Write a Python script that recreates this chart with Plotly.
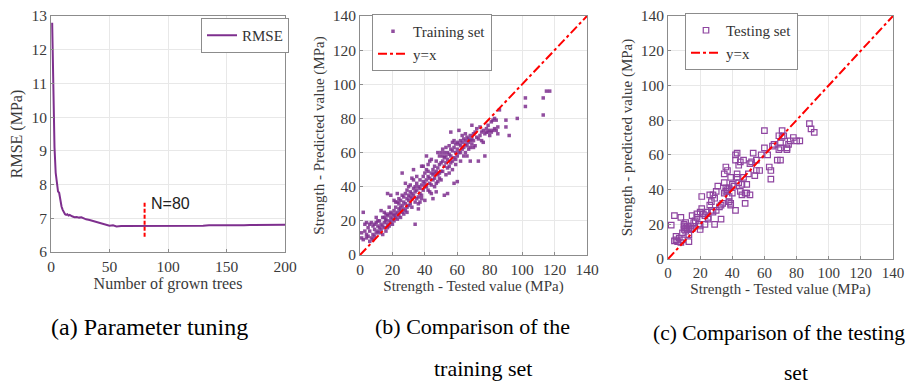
import plotly.graph_objects as go

# ---------------- data ----------------
trees = [1, 2, 3, 4, 5, 6, 7, 8, 9, 10, 11, 12, 13, 14, 15, 16, 18, 20, 22, 24, 26, 28, 30,
         33, 36, 40, 44, 48, 50, 53, 56, 60, 65, 70, 75, 80, 85, 90, 95, 100, 105, 110,
         115, 120, 125, 130, 135, 140, 145, 150, 155, 160, 165, 170, 175, 180, 185, 190, 195, 200]
rmse = [12.8, 10.6, 9.1, 8.35, 8.05, 7.8, 7.75, 7.5, 7.35, 7.25, 7.18, 7.12, 7.1, 7.12, 7.08, 7.1,
        7.06, 7.03, 7.04, 7.02, 7.03, 7.0, 6.97, 6.95, 6.92, 6.88, 6.84, 6.8, 6.78, 6.79, 6.76, 6.77,
        6.77, 6.78, 6.77, 6.77, 6.78, 6.77, 6.77, 6.77, 6.78, 6.77, 6.76, 6.77, 6.78, 6.78, 6.79,
        6.79, 6.78, 6.78, 6.77, 6.78, 6.79, 6.8, 6.8, 6.8, 6.81, 6.81, 6.8, 6.81]

train_tested = [1,1,2,2,3,3,4,4,5,5,6,6,7,7,8,8,9,9,10,10,10,4,6,8,9,
    11,11,12,12,12,13,13,14,14,14,15,15,15,16,16,16,17,17,17,18,18,18,19,19,19,20,20,20,13,11,15,18,17,19,16,
    21,21,21,22,22,22,23,23,23,24,24,24,25,25,25,26,26,26,27,27,27,28,28,28,29,29,29,30,30,30,21,23,25,27,29,28,26,24,22,30,
    31,31,31,32,32,32,33,33,33,34,34,34,35,35,35,36,36,36,37,37,37,38,38,38,39,39,39,40,40,40,31,33,35,36,38,40,34,32,37,39,
    41,41,41,42,42,42,43,43,43,44,44,44,45,45,45,46,46,46,47,47,47,48,48,48,49,49,49,50,50,50,41,43,45,47,49,42,44,46,48,50,
    51,51,51,52,52,52,53,53,53,54,54,54,55,55,55,56,56,56,57,57,57,58,58,58,59,59,59,60,60,60,51,53,55,57,59,52,54,56,58,60,
    61,61,61,62,62,62,63,63,64,64,64,65,65,65,66,66,67,67,67,68,68,68,69,69,70,70,70,71,63,66,69,71,62,65,68,
    72,72,73,73,74,74,75,75,76,76,77,77,78,78,79,79,80,80,81,81,82,82,83,83,84,84,85,86,85,
    90,90,92,97,102,102,113,113,115,117]
train_pred = [13,10,9,25,14,18,12,10,16,11,8,14,19,10,12,17,15,11,13,19,22,19,18,9,18,
    14,17,16,20,13,18,15,22,17,12,19,25,16,14,20,21,18,23,36,17,20,24,22,19,35,21,24,18,26,20,22,28,16,25,24,
    23,26,20,28,24,22,25,31,21,30,27,23,26,32,28,48,29,25,31,34,27,30,26,36,33,28,38,32,29,40,32,36,22,24,25,42,35,33,31,35,
    34,30,41,36,33,28,39,35,50,37,31,18,42,33,38,40,34,30,44,36,39,41,52,35,43,38,46,42,40,32,37,44,46,27,33,48,40,45,31,52,
    44,58,40,46,49,38,45,42,55,48,41,36,50,47,44,52,45,40,49,55,37,51,47,60,53,45,48,54,49,44,50,37,33,42,58,53,56,48,43,60,
    55,49,62,57,52,35,58,54,47,60,56,36,59,52,64,62,58,72,61,55,50,63,57,42,65,60,53,62,58,43,58,63,48,66,56,60,51,54,67,66,
    65,60,73,64,67,55,66,62,68,63,58,67,65,60,69,64,68,66,62,70,67,55,68,65,71,67,63,72,70,58,76,64,60,71,63,
    69,74,68,55,70,75,72,67,66,73,58,71,74,72,72,76,73,70,72,78,73,79,74,80,73,79,75,85,71,
    75,79,70,80,92,87,92,82,96,96]

test_tested = [2,4,4,5,5,6,7,8,8,9,9,10,10,10,11,11,11,12,12,13,13,13,14,14,15,15,16,17,18,18,19,20,20,20,
    21,21,22,23,23,24,25,25,26,26,27,27,28,28,29,29,30,30,31,32,33,33,34,35,35,35,36,36,36,37,37,37,38,38,38,
    39,39,39,40,40,41,42,42,42,43,43,43,44,44,45,45,46,46,47,47,48,48,49,49,50,51,51,52,53,54,55,55,57,58,
    60,60,62,63,64,64,65,66,68,69,69,70,70,70,71,71,72,74,74,75,76,78,80,82,88,89,91]
test_pred = [19.5,25,10.5,11,13,10,12,9.5,24,11,15,17,19,20,18,21,16,19,17,18,14,10,17,19,17.5,25,21,22,24,26,20,17,19,27,
    29,36,26,25,20,27,24,23,31,37,28,33,27,37,35,20,28,39,42,30,23,31,32,49,38,44,53,39,41,39,40,51,41,36,33,
    47,32,31,38,43,42,28,60,57,61,49,47,54,44,56,39,43,37,57,47,38,32,38,43,49,37,55,56,61,48,51,57,51,60,
    74,64,60,53,51,46,65,66,57,63,71,64,57,67,70,74,71,64,63,66,68,70,68,68,78,75,73]

line_xy = [0, 140]

PURPLE = "#7E2F8E"
SERIF = "Liberation Serif"
TICKC = "#3a3a3a"

# the page body has an 8px margin: the figure starts at (8, 8) in the window
OFF = 8
W, H = 915 - OFF, 389 - OFF
def PX(p): return (p - OFF) / W
def PY(p): return 1 - (p - OFF) / H

fig = go.Figure()

fig.add_trace(go.Scatter(x=trees, y=rmse, mode="lines", name="RMSE",
                         line=dict(color=PURPLE, width=2), xaxis="x", yaxis="y", legend="legend"))
fig.add_trace(go.Scatter(x=[80, 80], y=[6.45, 7.5], mode="lines", showlegend=False,
                         line=dict(color="red", width=2, dash="4px,2px"), xaxis="x", yaxis="y"))

fig.add_trace(go.Scatter(x=train_tested, y=train_pred, mode="markers", name="Training set",
                         marker=dict(symbol="square", size=3.5, color=PURPLE, opacity=0.85),
                         xaxis="x2", yaxis="y2", legend="legend2"))
fig.add_trace(go.Scatter(x=line_xy, y=line_xy, mode="lines", name="y=x",
                         line=dict(color="red", width=2, dash="dashdot"),
                         xaxis="x2", yaxis="y2", legend="legend2"))

fig.add_trace(go.Scatter(x=test_tested, y=test_pred, mode="markers", name="Testing set",
                         marker=dict(symbol="square-open", size=5.5, color="#8E44A0", line=dict(width=1.2)),
                         xaxis="x3", yaxis="y3", legend="legend3"))
fig.add_trace(go.Scatter(x=line_xy, y=line_xy, mode="lines", name="y=x",
                         line=dict(color="red", width=2, dash="dashdot"),
                         xaxis="x3", yaxis="y3", legend="legend3"))

def ax(domain, rng, dtick, anchor, title, standoff, tsize=15, ticksize=15.5):
    return dict(domain=domain, range=rng, dtick=dtick, anchor=anchor, automargin=False,
                ticklabeloverflow="allow",
                showline=True, mirror=True, linecolor="#8c8c8c", linewidth=1,
                showgrid=True, gridcolor="#e8e8e8", zeroline=False,
                ticks="inside", ticklen=3, tickcolor="#8c8c8c",
                tickfont=dict(family=SERIF, size=ticksize, color=TICKC),
                title=dict(text=title, font=dict(family=SERIF, size=tsize, color=TICKC), standoff=standoff))

legbox = dict(bgcolor="white", bordercolor="#8c8c8c", borderwidth=1,
              font=dict(family=SERIF, size=15, color="#333"), xanchor="left", yanchor="top",
              xref="paper", yref="paper", tracegroupgap=0, itemwidth=30)

fig.update_layout(
    width=W, height=H, margin=dict(l=0, r=0, t=0, b=0, autoexpand=False),
    paper_bgcolor="white", plot_bgcolor="white",
    font=dict(family=SERIF),
    xaxis=ax([PX(51), PX(285)], [0, 200], 50, "y", "Number of grown trees", 2, 16),
    yaxis=ax([PY(252), PY(16)], [6, 13], 1, "x", "RMSE (MPa)", 6, 16),
    xaxis2=ax([PX(360), PX(587)], [0, 140], 20, "y2", "Strength - Tested value (MPa)", 2, 15),
    yaxis2=ax([PY(255), PY(16)], [0, 140], 20, "x2", "Strength - Predicted value (MPa)", 4, 15),
    xaxis3=ax([PX(668), PX(893)], [0, 140], 20, "y3", "Strength - Tested value (MPa)", 0, 15, 15),
    yaxis3=ax([PY(259), PY(16)], [0, 140], 20, "x3", "Strength - predicted value (MPa)", 4, 15),
    legend=dict(legbox, x=PX(201), y=PY(18)),
    legend2=dict(legbox, x=PX(372), y=PY(14)),
    legend3=dict(legbox, x=PX(685), y=PY(13)),
)

fig.add_annotation(x=84, y=7.45, xref="x", yref="y", text="N=80", showarrow=False,
                   xanchor="left", yanchor="middle",
                   font=dict(family="Liberation Sans", size=16, color="#222"))

for txt, xc, yc, sz in [("(a) Parameter tuning", 149, 327, 24),
                        ("(b) Comparison of the", 472, 326, 22),
                        ("training set", 483, 368, 22),
                        ("(c) Comparison of the testing", 779, 333, 21.5),
                        ("set", 796, 373, 21.5)]:
    fig.add_annotation(x=PX(xc), y=PY(yc), xref="paper", yref="paper", text=txt,
                       showarrow=False, xanchor="center", yanchor="middle",
                       font=dict(family=SERIF, size=sz, color="black"))

fig.write_html("out.html")
